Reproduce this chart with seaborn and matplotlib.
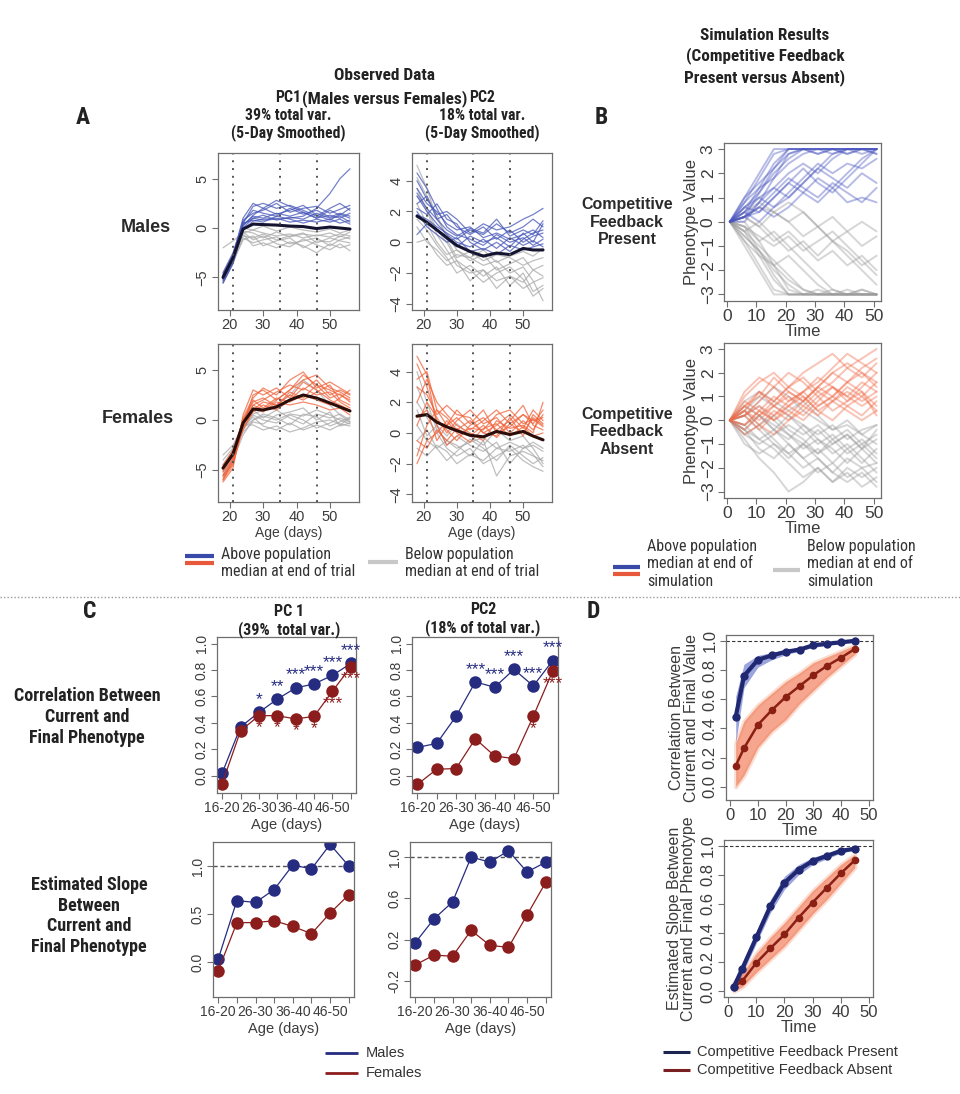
import numpy as np
import pandas as pd
import matplotlib
matplotlib.use("Agg")
import matplotlib.pyplot as plt
import seaborn as sns
from matplotlib.lines import Line2D
from matplotlib import font_manager as fm

sns.set_theme(style="white")
plt.rcParams["font.family"] = ["Liberation Sans", "DejaVu Sans"]


def pick_narrow():
    names = {f.name for f in fm.fontManager.ttflist}
    for n in ["Liberation Sans Narrow", "Roboto Condensed", "Open Sans Condensed",
              "Noto Sans Condensed", "DejaVu Sans Condensed", "Arial Narrow"]:
        if n in names:
            return {"family": [n, "DejaVu Sans"]}, 1.0
    for fam in ["DejaVu Sans", "Noto Sans", "Open Sans", "Roboto"]:
        for f in fm.fontManager.ttflist:
            if f.name == fam and "condensed" in str(f.stretch):
                return {"family": [fam], "fontstretch": "condensed"}, 1.0
    return {"family": ["Roboto", "DejaVu Sans"]}, 0.88


NARROW, NSCALE = pick_narrow()

# ---------------- DATA ----------------
AGES = [18, 21, 24, 27, 30, 34, 38, 42, 46, 50, 53, 56]
EPOCHS = [21, 35, 46]

PC1_M_MED = [-5.0, -3.0, -0.1, 0.4, 0.35, 0.3, 0.2, 0.15, -0.05, 0.1, 0.0, -0.1]
PC1_M_HI = [
    [-5.5, -3.5, 0.5, 2.2, 2.5, 2.0, 2.3, 1.8, 1.2, 2.0, 2.5, 1.8],
    [-5.0, -3.0, 0.8, 1.5, 1.8, 2.5, 1.6, 2.0, 2.2, 1.5, 1.9, 2.3],
    [-4.8, -2.8, 0.3, 1.2, 1.0, 1.5, 1.2, 1.6, 1.0, 1.3, 1.0, 1.5],
    [-5.3, -3.2, 0.0, 1.0, 1.3, 0.8, 1.1, 0.9, 1.5, 1.0, 1.2, 0.6],
    [-4.5, -2.5, 0.6, 1.8, 1.5, 1.2, 2.0, 1.4, 1.8, 1.1, 1.5, 1.2],
    [-5.0, -3.0, 0.4, 1.0, 0.8, 0.9, 1.0, 1.2, 2.0, 3.5, 5.0, 6.0],
    [-5.6, -3.6, -0.2, 0.7, 0.9, 1.0, 0.6, 0.8, 0.6, 0.9, 0.5, 0.8],
    [-4.9, -3.0, 0.2, 1.3, 2.0, 1.4, 1.8, 2.3, 1.3, 0.8, 1.4, 1.0],
    [-5.2, -3.3, 0.5, 0.8, 0.6, 1.2, 0.9, 0.5, 0.9, 0.6, 0.9, 0.4],
    [-4.7, -2.7, 1.0, 2.5, 2.0, 2.8, 2.2, 1.6, 1.0, 1.8, 1.3, 2.0],
]
PC1_M_LO = [
    [-2.0, -1.3, -0.5, -0.2, -0.5, -0.8, -0.6, -1.0, -0.7, -0.9, -0.6, -0.8],
    [-5.0, -3.2, -0.8, -1.0, -0.6, -1.2, -0.8, -0.5, -1.5, -1.0, -1.3, -1.5],
    [-5.5, -3.5, -1.0, -1.5, -1.2, -0.9, -1.6, -1.3, -1.0, -1.8, -1.2, -0.9],
    [-4.6, -2.8, -0.3, -0.5, -1.0, -0.4, -0.9, -0.6, -0.8, -0.5, -0.9, -0.4],
    [-5.1, -3.1, -0.6, -1.8, -1.5, -2.0, -1.4, -1.8, -2.5, -1.6, -2.0, -1.7],
    [-4.9, -3.0, 0.0, -0.2, 0.2, -0.3, 0.1, -0.2, -0.4, -0.1, -0.5, -0.2],
    [-5.3, -3.4, -1.2, -0.8, -1.8, -1.3, -1.0, -2.0, -1.3, -1.4, -0.8, -1.1],
    [-4.8, -2.9, -0.4, -1.2, -0.8, -1.6, -1.9, -1.1, -1.7, -2.2, -1.6, -2.3],
]

PC2_M_MED = [1.7, 1.3, 0.8, 0.3, -0.2, -0.6, -0.9, -0.7, -0.8, -0.4, -0.5, -0.5]
PC2_M_HI = [
    [3.5, 2.5, 2.0, 1.2, 0.8, 1.0, 0.3, 0.6, 0.2, 0.5, 0.8, 0.3],
    [2.5, 3.0, 1.5, 1.8, 1.0, 0.5, 1.0, 0.2, 0.8, 0.0, 0.4, 0.6],
    [4.5, 3.5, 2.2, 1.0, 0.5, 0.2, -0.2, 0.5, 0.0, 0.3, -0.2, 0.2],
    [1.8, 1.5, 1.0, 0.6, 0.2, 0.8, 0.5, 1.2, 0.6, 1.0, 1.5, 1.0],
    [3.0, 2.0, 1.2, 0.5, 0.0, -0.3, 0.2, -0.4, 0.3, -0.2, 0.1, -0.3],
    [2.2, 1.8, 2.5, 1.5, 1.2, 0.0, -0.5, 0.0, -0.6, 0.2, 0.6, 0.8],
    [0.5, 1.2, 0.8, 0.2, -0.3, 0.4, 0.0, 0.3, -0.3, 0.6, 0.0, 1.2],
    [4.0, 2.8, 1.8, 2.0, 1.5, 0.6, 1.2, 0.8, 1.0, 1.5, 1.8, 2.2],
    [2.0, 1.0, 0.5, 0.0, 0.3, -0.6, -0.4, -0.8, -0.2, -0.5, -0.3, -0.1],
    [3.2, 2.2, 1.5, 0.8, 0.4, 0.9, 0.6, 1.5, 0.4, 0.8, 0.5, 1.4],
]
PC2_M_LO = [
    [5.0, 3.5, 1.5, 0.5, -0.5, -1.0, -1.5, -1.2, -2.0, -1.6, -2.5, -3.8],
    [3.5, 2.0, 0.5, -0.5, -1.5, -2.0, -1.8, -2.5, -2.2, -3.0, -2.6, -2.3],
    [1.5, 0.8, -0.2, -1.0, -2.0, -1.5, -2.2, -1.6, -2.8, -2.0, -3.2, -2.8],
    [4.2, 3.0, 1.8, 0.2, -1.0, -0.6, -1.2, -0.8, -1.0, -1.5, -1.2, -1.0],
    [0.0, 0.2, -0.8, -1.5, -1.2, -2.5, -1.8, -3.0, -2.2, -2.6, -1.8, -2.2],
    [2.5, 1.2, 0.0, -0.8, -0.5, -1.2, -0.8, -1.8, -1.4, -1.0, -1.8, -1.5],
    [3.0, 2.2, 0.8, 0.0, -1.2, -1.8, -2.6, -2.0, -1.6, -2.4, -3.5, -3.0],
    [1.0, 0.0, -0.5, -1.2, -0.8, -1.0, -0.5, -1.3, -0.9, -0.6, -0.9, -0.4],
]

PC1_F_MED = [-4.8, -3.4, -0.3, 1.1, 1.0, 1.3, 2.0, 2.5, 2.2, 1.7, 1.3, 0.9]
PC1_F_HI = [
    [-6.0, -4.5, -0.5, 2.5, 3.0, 2.0, 3.0, 4.5, 3.5, 3.0, 2.5, 2.0],
    [-5.5, -4.0, 0.0, 1.5, 2.0, 2.8, 3.5, 3.0, 4.0, 2.5, 3.0, 2.5],
    [-5.0, -3.5, -1.0, 1.0, 1.8, 1.5, 2.5, 2.0, 2.8, 3.5, 2.0, 1.5],
    [-6.2, -4.8, 0.5, 3.0, 2.5, 3.2, 2.2, 3.8, 3.0, 2.0, 1.5, 1.0],
    [-4.5, -3.0, -0.2, 2.0, 1.2, 2.2, 1.8, 2.5, 2.0, 1.5, 2.2, 3.0],
    [-5.8, -4.2, -0.8, 0.8, 1.5, 1.0, 2.0, 3.2, 2.5, 2.8, 1.8, 1.2],
    [-5.2, -3.8, 0.2, 2.2, 3.2, 2.5, 4.0, 4.8, 3.2, 3.8, 3.2, 2.6],
    [-6.0, -4.0, -0.4, 1.2, 0.8, 1.8, 1.5, 1.8, 1.5, 1.0, 1.2, 0.5],
    [-5.0, -3.2, 0.0, 1.8, 2.2, 1.4, 2.8, 2.2, 3.5, 2.2, 2.6, 1.8],
    [-5.6, -4.4, -0.6, 1.5, 1.0, 2.0, 3.0, 4.0, 4.5, 3.2, 2.8, 2.2],
]
PC1_F_LO = [
    [-3.5, -2.5, -0.5, -0.5, -1.0, -0.6, -1.2, -0.8, -0.2, 0.0, -0.4, -0.6],
    [-5.0, -3.5, -1.0, 0.5, 0.0, -0.3, 0.5, 0.0, -0.8, -0.3, 0.2, -0.2],
    [-4.5, -3.0, -0.8, 0.0, 0.6, 0.2, -0.5, 0.6, 0.3, -0.6, -0.2, 0.3],
    [-5.5, -3.8, -0.2, 1.0, 0.2, 1.0, 0.2, -0.4, 0.6, 0.2, 0.6, 0.0],
    [-4.8, -3.2, -1.2, -0.2, -0.4, 0.5, 0.8, 1.2, 0.0, 0.8, -0.6, -0.3],
    [-5.2, -3.6, -0.6, 0.3, -0.6, -1.0, -0.3, -1.0, -0.5, -1.0, -0.5, 0.2],
    [-4.0, -2.8, -0.4, 0.6, 1.0, 1.5, 2.5, 4.0, 3.0, 1.5, 0.5, -0.2],
    [-5.6, -4.0, -1.5, 0.0, 0.4, 0.0, 0.6, 0.4, 1.0, 0.5, 0.0, -0.4],
]

PC2_F_MED = [1.1, 1.2, 0.7, 0.4, 0.15, -0.15, -0.25, 0.1, -0.1, 0.1, -0.2, -0.45]
PC2_F_HI = [
    [3.5, 4.0, 1.5, 0.5, 1.0, 0.2, 0.8, 1.5, 0.6, 1.2, 0.8, 1.0],
    [-1.5, 0.5, 1.5, 1.0, 0.2, 0.8, 0.0, 0.5, 1.2, 0.3, 1.5, 0.8],
    [4.5, 3.0, 0.8, 0.2, -0.5, 0.5, 1.0, 0.2, 0.8, 1.8, 0.5, 0.2],
    [0.5, 2.0, 1.0, 0.0, 0.8, 1.5, 0.6, 1.0, 0.0, 0.8, 0.2, 1.2],
    [-0.5, -1.0, 0.2, -0.5, 0.3, -0.2, 0.5, -0.3, 0.6, 0.0, 1.0, 0.5],
    [2.0, 3.5, 2.0, 1.2, 0.5, 0.0, -0.5, 0.8, 0.3, 0.5, 0.0, 2.0],
    [5.0, 3.8, 0.5, -0.8, -0.2, 0.3, 0.2, 1.2, 1.5, 0.6, 0.9, 0.4],
    [1.0, 1.5, -0.5, 0.5, 1.5, 0.6, 1.5, 0.0, 0.4, 1.2, 0.6, 1.5],
    [-2.0, -0.5, 0.0, 0.8, 0.0, -0.6, 0.3, 0.6, -0.2, 0.4, -0.2, 0.0],
    [3.0, 2.5, 1.2, 1.8, 1.2, 1.0, 0.0, -0.2, 1.0, -0.2, 1.2, 0.6],
]
PC2_F_LO = [
    [2.0, 1.0, 0.0, -1.0, -1.5, -1.0, -2.0, -1.5, -1.0, -1.8, -2.2, -2.5],
    [0.5, -0.5, -1.0, -0.5, -0.8, -1.5, -0.5, -2.8, -1.5, -1.2, -1.5, -1.8],
    [3.0, 1.5, 0.5, -0.8, -0.2, -0.8, -1.2, -0.6, -2.0, -1.0, -0.8, -1.2],
    [-0.5, 0.2, -1.0, -1.8, -1.2, -0.4, -1.0, -1.8, -0.8, -1.5, -2.0, -1.6],
    [1.5, -0.2, 0.5, -0.2, 0.6, -0.2, -0.8, 0.2, -0.5, -0.2, -1.0, -2.0],
    [4.0, 2.0, 0.2, -0.5, -1.0, -0.6, -0.3, -1.0, -0.6, -1.0, -0.6, -1.0],
    [-1.0, -1.5, -0.8, -1.2, -2.0, -1.4, -1.8, -1.0, -1.2, -0.8, -1.4, -2.2],
]

# Panel B: simulated phenotype walks
SIM_T = [1, 6, 11, 16, 21, 26, 31, 36, 41, 46, 51]
SIM_PRESENT_HI = [
    [0, 1.0, 2.0, 3.0, 3.0, 3.0, 3.0, 3.0, 3.0, 3.0, 3.0],
    [0, 0.8, 1.8, 2.8, 3.0, 3.0, 2.8, 3.0, 3.0, 2.8, 3.0],
    [0, 0.6, 1.2, 2.0, 2.6, 3.0, 3.0, 3.0, 2.8, 3.0, 3.0],
    [0, 0.4, 1.0, 1.4, 2.0, 2.4, 2.0, 2.6, 3.0, 3.0, 2.8],
    [0, 0.2, 0.8, 1.4, 1.0, 1.6, 2.2, 2.8, 3.0, 3.0, 3.0],
    [0, 0.6, 0.4, 1.0, 1.6, 1.2, 0.8, 1.4, 2.0, 2.6, 3.0],
    [0, 0.2, 0.6, 0.2, 0.6, 1.2, 1.8, 1.4, 0.8, 1.0, 0.8],
    [0, 0.4, 0.0, 0.6, 1.2, 1.8, 2.4, 2.0, 2.4, 2.2, 2.6],
    [0, 0.2, 0.4, 1.0, 1.6, 2.2, 1.6, 1.2, 1.8, 2.4, 3.0],
    [0, 1.0, 1.6, 2.2, 2.8, 3.0, 3.0, 2.8, 3.0, 3.0, 2.8],
    [0, 0.0, 0.8, 1.8, 2.8, 3.0, 3.0, 3.0, 3.0, 3.0, 3.0],
    [0, 0.4, 1.4, 2.4, 3.0, 3.0, 2.8, 3.0, 3.0, 3.0, 3.0],
    [0, 0.2, 1.2, 2.2, 3.0, 3.0, 3.0, 3.0, 2.8, 3.0, 3.0],
    [0, 0.8, 1.4, 1.8, 2.4, 2.8, 3.0, 3.0, 3.0, 3.0, 3.0],
    [0, 0.2, 0.6, 1.2, 1.8, 1.4, 1.0, 1.6, 1.2, 0.8, 1.4],
    [0, 0.6, 1.0, 0.6, 1.0, 1.6, 2.2, 1.8, 1.4, 2.0, 1.6],
]
SIM_PRESENT_LO = [
    [0, -1.0, -2.0, -3.0, -3.0, -3.0, -3.0, -3.0, -3.0, -3.0, -3.0],
    [0, -0.8, -1.8, -2.8, -3.0, -3.0, -3.0, -2.8, -3.0, -3.0, -3.0],
    [0, -0.6, -1.2, -2.0, -2.6, -3.0, -3.0, -3.0, -3.0, -2.8, -3.0],
    [0, -0.4, -1.0, -1.6, -2.2, -2.8, -3.0, -3.0, -2.8, -3.0, -3.0],
    [0, -0.2, -0.8, -0.4, -1.0, -1.6, -2.2, -2.8, -3.0, -3.0, -3.0],
    [0, 0.2, 0.6, 0.4, 0.0, -0.6, -0.2, -0.8, -1.4, -2.0, -2.6],
    [0, -0.4, 0.0, -0.6, -1.2, -0.8, -1.4, -0.8, -1.2, -1.8, -1.4],
    [0, 0.2, -0.2, 0.4, 0.8, 0.4, -0.2, -0.8, -0.4, -1.0, -0.6],
    [0, -0.6, -1.2, -1.8, -1.4, -2.0, -2.6, -3.0, -3.0, -3.0, -3.0],
    [0, -0.2, -0.6, -1.0, -0.6, -1.2, -0.8, -0.4, -1.0, -1.6, -2.2],
    [0, 0.0, -0.8, -1.8, -2.8, -3.0, -3.0, -3.0, -3.0, -3.0, -3.0],
    [0, -0.4, -1.4, -2.4, -3.0, -3.0, -3.0, -3.0, -3.0, -3.0, -3.0],
    [0, -0.2, -1.2, -2.2, -3.0, -3.0, -2.8, -3.0, -3.0, -3.0, -3.0],
    [0, -0.8, -1.4, -1.8, -2.4, -2.8, -3.0, -3.0, -3.0, -2.8, -3.0],
    [0, 0.2, -0.2, -0.8, -0.4, -1.0, -1.6, -1.2, -1.8, -1.4, -2.0],
    [0, 0.4, 0.8, 0.4, 0.0, 0.4, -0.2, 0.2, -0.4, 0.0, -0.4],
]
SIM_ABSENT_HI = [
    [0, 1.0, 1.6, 2.0, 1.4, 2.0, 2.4, 2.8, 2.2, 2.6, 3.0],
    [0, 0.6, 1.2, 0.8, 1.4, 1.8, 1.2, 1.6, 2.2, 1.8, 2.4],
    [0, 0.4, 0.0, 0.6, 1.0, 0.6, 1.2, 0.8, 1.4, 1.0, 1.6],
    [0, -0.2, 0.4, 1.0, 0.6, 1.2, 1.8, 1.4, 1.0, 1.6, 1.2],
    [0, 0.8, 0.4, 0.0, 0.6, 0.2, 0.8, 1.4, 1.0, 0.6, 1.0],
    [0, 0.2, 0.8, 1.4, 2.0, 1.6, 1.0, 1.4, 0.8, 1.2, 0.6],
    [0, -0.6, -0.2, 0.4, 0.0, 0.6, 0.2, 0.8, 0.4, 0.0, 0.4],
    [0, 0.6, 1.0, 1.8, 1.2, 0.8, 1.4, 2.0, 2.4, 2.0, 1.4],
    [0, 0.4, -0.2, -0.6, 0.0, 0.4, 1.0, 0.4, 0.8, 1.4, 2.0],
    [0, 0.2, 0.6, 0.2, 0.8, 1.2, 0.6, 1.0, 1.6, 1.2, 0.2],
    [0, 0.4, 1.2, 0.6, 1.2, 0.8, 1.4, 2.0, 1.6, 2.2, 2.6],
    [0, -0.4, 0.2, 0.8, 1.4, 1.0, 0.4, 0.8, 1.2, 0.8, 1.2],
    [0, 0.6, 0.2, 0.6, 0.2, 0.8, 1.4, 1.0, 1.6, 2.0, 1.6],
    [0, 1.2, 1.8, 1.4, 0.8, 1.2, 1.6, 2.2, 2.8, 2.4, 2.0],
    [0, 0.2, -0.4, 0.2, 0.6, 1.0, 0.4, 0.0, 0.6, 0.2, 0.8],
    [0, -0.2, 0.4, 0.0, 0.4, 0.0, 0.6, 1.0, 0.6, 1.0, 0.4],
]
SIM_ABSENT_LO = [
    [0, -0.8, -1.6, -2.2, -3.0, -2.6, -2.0, -2.6, -2.2, -2.8, -2.4],
    [0, -0.4, 0.2, -0.4, -1.0, -1.6, -1.2, -1.8, -1.2, -1.8, -1.2],
    [0, 0.6, 0.2, -0.4, -0.8, -0.2, -0.8, -1.4, -1.0, -1.6, -2.2],
    [0, -0.2, -0.8, -0.4, 0.2, -0.4, -1.0, -0.6, -1.2, -0.8, -1.4],
    [0, 0.2, -0.4, -1.0, -1.4, -1.0, -1.6, -2.2, -1.6, -2.0, -2.6],
    [0, -0.6, -1.0, -0.6, -0.2, -0.6, -0.2, -0.8, -0.4, -1.0, -0.6],
    [0, 0.4, 1.0, 0.6, 0.2, -0.2, -0.6, -0.2, -0.8, -0.4, -0.2],
    [0, -0.4, -1.2, -1.6, -1.0, -1.6, -2.2, -1.8, -2.4, -2.0, -1.8],
    [0, 0.8, 1.2, 0.8, 0.4, 0.8, 0.2, -0.4, 0.0, -0.6, -1.0],
    [0, -0.2, 0.2, -0.2, -0.6, -1.2, -0.8, -1.2, -1.8, -1.2, -0.8],
    [0, -0.6, -0.2, -0.8, -1.4, -2.0, -1.6, -2.2, -2.6, -2.2, -2.8],
    [0, 0.2, 0.6, 0.0, -0.6, -1.0, -0.4, -1.0, -0.6, -1.2, -1.8],
    [0, -1.0, -1.4, -1.0, -1.6, -1.0, -1.4, -0.8, -1.4, -1.0, -1.6],
    [0, 0.4, -0.2, 0.2, -0.4, -0.8, -1.4, -1.0, -0.6, -1.2, -0.4],
    [0, -0.4, -0.8, -1.2, -1.8, -2.4, -2.0, -2.6, -2.0, -2.4, -2.0],
    [0, 0.2, 0.8, 1.4, 1.0, 0.4, 0.0, -0.4, -0.2, -0.6, -0.2],
]

# Panel C
AGE_BINS = ["16-20", "21-25", "26-30", "31-35", "36-40", "41-45", "46-50", "51-55"]
COR_PC1_M = [0.02, 0.37, 0.48, 0.58, 0.665, 0.695, 0.76, 0.85]
COR_PC1_F = [-0.06, 0.34, 0.455, 0.455, 0.43, 0.45, 0.64, 0.825]
COR_PC2_M = [0.215, 0.245, 0.45, 0.71, 0.67, 0.805, 0.68, 0.87]
COR_PC2_F = [-0.065, 0.05, 0.055, 0.28, 0.15, 0.13, 0.45, 0.79]
SIG_PC1_M = ["", "", "*", "**", "***", "***", "***", "***"]
SIG_PC1_F = ["", "", "*", "*", "*", "*", "***", "***"]
SIG_PC2_M = ["", "", "", "***", "***", "***", "***", "***"]
SIG_PC2_F = ["", "", "", "", "", "", "*", "***"]
SLOPE_PC1_M = [0.03, 0.64, 0.62, 0.755, 1.01, 0.97, 1.225, 1.0]
SLOPE_PC1_F = [-0.09, 0.41, 0.41, 0.43, 0.37, 0.295, 0.51, 0.70]
SLOPE_PC2_M = [0.17, 0.40, 0.565, 1.0, 0.95, 1.06, 0.855, 0.95]
SLOPE_PC2_F = [-0.045, 0.05, 0.04, 0.29, 0.145, 0.125, 0.44, 0.755]

# Panel D
D_T = [2, 5, 10, 15, 20, 25, 30, 35, 40, 45]
D_COR_P = [0.48, 0.76, 0.87, 0.90, 0.925, 0.94, 0.97, 0.98, 0.99, 1.0]
D_COR_P_LO = [0.30, 0.68, 0.82, 0.87, 0.905, 0.93, 0.955, 0.97, 0.985, 0.995]
D_COR_P_HI = [0.62, 0.84, 0.90, 0.92, 0.94, 0.955, 0.975, 0.985, 0.995, 1.0]
D_COR_A = [0.145, 0.265, 0.425, 0.525, 0.615, 0.69, 0.765, 0.83, 0.885, 0.945]
D_COR_A_LO = [0.0, 0.08, 0.27, 0.38, 0.46, 0.57, 0.66, 0.75, 0.83, 0.91]
D_COR_A_HI = [0.30, 0.45, 0.56, 0.64, 0.72, 0.78, 0.85, 0.89, 0.93, 0.97]
D_SLO_P = [0.03, 0.155, 0.37, 0.585, 0.745, 0.835, 0.895, 0.93, 0.965, 0.98]
D_SLO_P_LO = [0.01, 0.12, 0.33, 0.54, 0.70, 0.80, 0.87, 0.91, 0.95, 0.97]
D_SLO_P_HI = [0.05, 0.19, 0.41, 0.63, 0.79, 0.87, 0.92, 0.95, 0.98, 0.99]
D_SLO_A = [0.03, 0.07, 0.195, 0.295, 0.39, 0.505, 0.61, 0.71, 0.81, 0.90]
D_SLO_A_LO = [0.0, 0.03, 0.13, 0.22, 0.31, 0.42, 0.53, 0.63, 0.74, 0.85]
D_SLO_A_HI = [0.06, 0.12, 0.26, 0.37, 0.47, 0.58, 0.69, 0.78, 0.87, 0.94]

# ---------------- STYLE ----------------
BLUE_A = "#4656b8"
RED_A = "#f0623a"
GRAY = "#a9a9a9"
MALE = "#262c80"
FEMALE = "#8c1d1d"
NAVY = "#1f2870"
DKRED = "#8a1f14"
TICKC = "#3c3c3c"
SPINE = "#6e6e6e"

W, H = 960, 1094
fig = plt.figure(figsize=(W / 100, H / 100), dpi=100)
fig.patch.set_facecolor("white")


def add_ax(l, t, r, b):
    return fig.add_axes([l / W, 1 - b / H, (r - l) / W, (b - t) / H])


def ftext(x, y, s, **kw):
    fig.text(x / W, 1 - y / H, s, **kw)


def style_ax(ax, size):
    ax.set_facecolor("white")
    ax.grid(False)
    for sp in ax.spines.values():
        sp.set_visible(True)
        sp.set_color(SPINE)
        sp.set_linewidth(0.9)
    ax.tick_params(direction="out", length=4, width=0.8, color=SPINE,
                   labelsize=size, labelcolor=TICKC, pad=2,
                   bottom=True, left=True)
    plt.setp(ax.get_yticklabels(), rotation=90, va="center")


def long_df(x, hi, lo):
    rows = []
    for i, ln in enumerate(lo):
        for a, v in zip(x, ln):
            rows.append((a, v, f"lo{i}", "lo"))
    for i, ln in enumerate(hi):
        for a, v in zip(x, ln):
            rows.append((a, v, f"hi{i}", "hi"))
    return pd.DataFrame(rows, columns=["x", "v", "uid", "grp"])


def panel_a(box, hi, lo, med, col, medcol, yticks, ylim, xlabel):
    ax = add_ax(*box)
    df = long_df(AGES, hi, lo)
    sns.lineplot(data=df, x="x", y="v", units="uid", estimator=None,
                 hue="grp", hue_order=["lo", "hi"],
                 palette={"lo": GRAY, "hi": col}, lw=0.9, alpha=0.75,
                 legend=False, ax=ax, sort=False)
    sns.lineplot(x=AGES, y=med, color=medcol, lw=2.2, ax=ax, legend=False)
    for e in EPOCHS:
        ax.axvline(e, color="#555555", ls=(0, (1, 3)), lw=1.4)
    ax.set_xlim(16.5, 58.7)
    ax.set_ylim(*ylim)
    ax.set_xticks([20, 30, 40, 50])
    ax.set_yticks(yticks)
    ax.set_xlabel(xlabel, fontsize=10, color=TICKC, labelpad=1)
    ax.set_ylabel("")
    style_ax(ax, 10.5)
    return ax


panel_a((218, 153, 359, 310), PC1_M_HI, PC1_M_LO, PC1_M_MED, BLUE_A, "#141430",
        [-5, 0, 5], (-8.3, 7.6), "")
panel_a((412, 153, 552, 310), PC2_M_HI, PC2_M_LO, PC2_M_MED, BLUE_A, "#141430",
        [-4, -2, 0, 2, 4], (-4.4, 5.8), "")
panel_a((218, 344, 359, 502), PC1_F_HI, PC1_F_LO, PC1_F_MED, RED_A, "#2a0c08",
        [-5, 0, 5], (-8.2, 7.6), "Age (days)")
panel_a((412, 344, 552, 502), PC2_F_HI, PC2_F_LO, PC2_F_MED, RED_A, "#2a0c08",
        [-4, -2, 0, 2, 4], (-4.5, 5.8), "Age (days)")


def panel_b(box, hi, lo, col):
    ax = add_ax(*box)
    df = long_df(SIM_T, hi, lo)
    sns.lineplot(data=df, x="x", y="v", units="uid", estimator=None,
                 hue="grp", hue_order=["lo", "hi"],
                 palette={"lo": "#9a9a9a", "hi": col}, lw=1.4, alpha=0.4,
                 legend=False, ax=ax, sort=False)
    ax.set_xlim(-1, 52.5)
    ax.set_ylim(-3.27, 3.25)
    ax.set_xticks([0, 10, 20, 30, 40, 50])
    ax.set_yticks([-3, -2, -1, 0, 1, 2, 3])
    ax.set_xlabel("Time", fontsize=12, color=TICKC, labelpad=0)
    ax.set_ylabel("Phenotype Value", fontsize=12, color=TICKC, labelpad=1)
    style_ax(ax, 12.5)
    return ax


panel_b((724, 143, 881, 301), SIM_PRESENT_HI, SIM_PRESENT_LO, "#4a56c0")
panel_b((724, 343, 881, 498), SIM_ABSENT_HI, SIM_ABSENT_LO, "#f06a48")


def panel_c(box, male, female, ylim, yticks, ytl, sig_m=None, sig_f=None, ref=False):
    ax = add_ax(*box)
    pos = list(range(len(AGE_BINS)))
    if ref:
        ax.axhline(1.0, color="#555555", ls=(0, (3, 2)), lw=1.0)
    sns.lineplot(x=pos, y=male, color=MALE, lw=0.9, marker="o", markersize=9,
                 markeredgewidth=0, ax=ax, legend=False)
    sns.lineplot(x=pos, y=female, color=FEMALE, lw=0.9, marker="o", markersize=9,
                 markeredgewidth=0, ax=ax, legend=False)
    if sig_m is not None:
        for p, v, s in zip(pos, male, sig_m):
            if s:
                ax.text(p, v + 0.04, s, color=MALE, fontsize=12.5, ha="center",
                        va="bottom")
        for p, v, s in zip(pos, female, sig_f):
            if s:
                ax.text(p, v - 0.035, s, color=FEMALE, fontsize=12.5, ha="center",
                        va="top")
    ax.set_xlim(-0.28, 7.28)
    ax.set_ylim(*ylim)
    ax.set_xticks(pos)
    ax.set_xticklabels([b if i % 2 == 0 else "" for i, b in enumerate(AGE_BINS)])
    ax.set_yticks(yticks)
    ax.set_yticklabels(ytl)
    ax.set_xlabel("Age (days)", fontsize=10.5, color=TICKC, labelpad=2)
    style_ax(ax, 10)
    return ax


yt = [0.0, 0.2, 0.4, 0.6, 0.8, 1.0]
ytl = ["0.0", "0.2", "0.4", "0.6", "0.8", "1.0"]
panel_c((217, 637, 356, 793), COR_PC1_M, COR_PC1_F, (-0.13, 1.05), yt, ytl,
        SIG_PC1_M, SIG_PC1_F)
panel_c((412, 637, 558, 793), COR_PC2_M, COR_PC2_F, (-0.13, 1.05), yt, ytl,
        SIG_PC2_M, SIG_PC2_F)
panel_c((213, 842, 354, 997), SLOPE_PC1_M, SLOPE_PC1_F, (-0.365, 1.25),
        [0.0, 0.5, 1.0], ["0.0", "0.5", "1.0"], ref=True)
panel_c((410, 842, 551, 997), SLOPE_PC2_M, SLOPE_PC2_F, (-0.355, 1.145),
        [-0.2, 0.2, 0.6, 1.0], ["-0.2", "0.2", "0.6", "1.0"], ref=True)


def panel_d(box, tp, p, plo, phi, a, alo, ahi, ylim, ylabel):
    ax = add_ax(*box)
    ax.axhline(1.0, color="#333333", ls=(0, (3, 2)), lw=0.8, clip_on=False)
    ax.fill_between(D_T, alo, ahi, color="#f5a382", alpha=0.35, lw=3)
    ax.fill_between(D_T, alo, ahi, color="#f0623a", alpha=0.45, lw=0)
    ax.fill_between(D_T, plo, phi, color="#4a5ac0", alpha=0.55, lw=0)
    sns.lineplot(x=D_T, y=a, color=DKRED, lw=1.8, marker="o", markersize=5.5,
                 markeredgewidth=0, ax=ax, legend=False)
    sns.lineplot(x=D_T, y=p, color=NAVY, lw=3.0, marker="o", markersize=6,
                 markeredgewidth=0, ax=ax, legend=False)
    ax.set_xlim(-1.5, 51.5)
    ax.set_ylim(*ylim)
    ax.set_xticks([0, 10, 20, 30, 40, 50])
    ax.set_yticks([0.0, 0.2, 0.4, 0.6, 0.8, 1.0])
    ax.set_yticklabels(["0.0", "0.2", "0.4", "0.6", "0.8", "1.0"])
    ax.set_xlabel("Time", fontsize=12, color=TICKC, labelpad=0)
    ax.set_ylabel(ylabel, fontsize=11.5, color=TICKC, labelpad=3, linespacing=0.95)
    style_ax(ax, 12)
    return ax


panel_d((726, 635, 873, 800), D_T, D_COR_P, D_COR_P_LO, D_COR_P_HI,
        D_COR_A, D_COR_A_LO, D_COR_A_HI, (-0.09, 1.04),
        "Correlation Between\nCurrent and Final Value")
panel_d((724, 840, 873, 997), D_T, D_SLO_P, D_SLO_P_LO, D_SLO_P_HI,
        D_SLO_A, D_SLO_A_LO, D_SLO_A_HI, (-0.04, 1.04),
        "Estimated Slope Between\nCurrent and Final Phenotype")

# ---------------- TEXT ----------------
s = NSCALE
hdr = dict(fontweight="bold", color="#222222", ha="center", va="center", **NARROW)
ftext(385, 75, "Observed Data", fontsize=12.5 * s, **hdr)
ftext(385, 99, "(Males versus Females)", fontsize=12.5 * s, **hdr)
ftext(765, 57, "Simulation Results\n(Competitive Feedback\nPresent versus Absent)",
      fontsize=12.3 * s, linespacing=1.35, **hdr)
for cx, lines in [(288, ["PC1", "39% total var.", "(5-Day Smoothed)"]),
                  (482, ["PC2", "18% total var.", "(5-Day Smoothed)"])]:
    for yy, ln in zip([97, 115, 133], lines):
        ftext(cx, yy, ln, fontsize=11.3 * s, **hdr)
ftext(83, 118, "A", fontsize=17, **hdr)
ftext(601, 118, "B", fontsize=17, **hdr)
ftext(90, 611, "C", fontsize=17, **hdr)
ftext(593, 611, "D", fontsize=17, **hdr)
ftext(289, 621, "PC 1\n(39%  total var.)", fontsize=11.5 * s, linespacing=1.2, **hdr)
ftext(483, 619, "PC2\n(18% of total var.)", fontsize=11.5 * s, linespacing=1.2, **hdr)
ftext(87, 717, "Correlation Between\nCurrent and\nFinal Phenotype", fontsize=13 * s,
      linespacing=1.2, **hdr)
ftext(89, 916, "Estimated Slope\nBetween\nCurrent and\nFinal Phenotype", fontsize=13 * s,
      linespacing=1.2, **hdr)

lab = dict(fontweight="bold", color="#2a2a2a", ha="center", va="center")
ftext(146, 228, "Males", fontsize=13, **lab)
ftext(138, 418, "Females", fontsize=13, **lab)
ftext(627, 222, "Competitive\nFeedback\nPresent", fontsize=11.5, linespacing=1.2, **lab)
ftext(627, 432, "Competitive\nFeedback\nAbsent", fontsize=11.5, linespacing=1.2, **lab)

# separator
fig.add_artist(Line2D([0, 1], [1 - 597 / H] * 2, transform=fig.transFigure,
                      color="#9a9a9a", ls=(0, (1, 1.5)), lw=1.0))


def fline(x0, x1, y, color, lw):
    fig.add_artist(Line2D([x0 / W, x1 / W], [1 - y / H] * 2,
                          transform=fig.transFigure, color=color, lw=lw,
                          solid_capstyle="butt"))


leg = dict(color="#333333", ha="left", va="center", fontsize=11.5 * s, **NARROW)
fline(185, 214, 556, "#3a4aa8", 3)
fline(185, 214, 563, "#e8583a", 3)
ftext(221, 563, "Above population\nmedian at end of trial", linespacing=1.25, **leg)
fline(368, 398, 562, "#c8c8c8", 3)
ftext(405, 563, "Below population\nmedian at end of trial", linespacing=1.25, **leg)
fline(613, 640, 567, "#3a4aa8", 3)
fline(613, 640, 574, "#e8583a", 3)
ftext(647, 564, "Above population\nmedian at end of\nsimulation", linespacing=1.25, **leg)
fline(773, 800, 570, "#c8c8c8", 3)
ftext(807, 564, "Below population\nmedian at end of\nsimulation", linespacing=1.25, **leg)

leg2 = dict(color="#333333", ha="left", va="center", fontsize=10.5)
fline(325, 358, 1053, MALE, 2)
ftext(366, 1053, "Males", **leg2)
fline(325, 358, 1073, FEMALE, 2)
ftext(366, 1073, "Females", **leg2)
fline(663, 690, 1052, "#1c2550", 2.2)
ftext(697, 1052, "Competitive Feedback Present", **leg2)
fline(663, 690, 1070, "#7a1f1f", 2.2)
ftext(697, 1070, "Competitive Feedback Absent", **leg2)

fig.savefig("out.png", dpi=100, facecolor="white")
